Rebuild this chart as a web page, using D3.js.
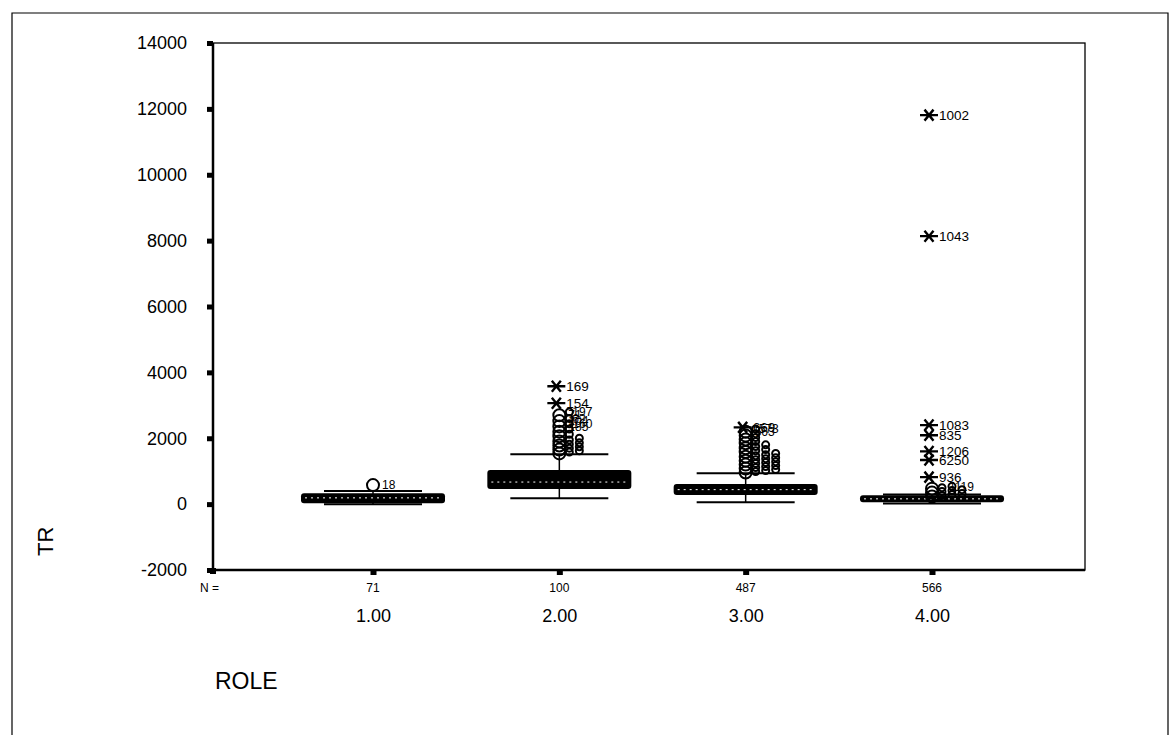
<!DOCTYPE html>
<html>
<head>
<meta charset="utf-8">
<script src="https://cdn.jsdelivr.net/npm/d3@7"></script>
<style>
  body { margin: 0; background: #fff; }
  text { font-family: "Liberation Sans", Arial, sans-serif; fill: #000; }
</style>
</head>
<body>
<div id="chart"></div>
<script>
var roles = ["1.00", "2.00", "3.00", "4.00"];
var roleValues = [1, 2, 3, 4];
var nCounts = [71, 100, 487, 566];
var lowWhisker = [0, 180, 60, 20];
var q1 = [60, 486, 304, 90];
var median = [190, 670, 440, 160];
var q3 = [300, 1002, 577, 240];
var highWhisker = [395, 1518, 941, 290];
var yTicks = [-2000, 0, 2000, 4000, 6000, 8000, 10000, 12000, 14000];

// outliers (circles) per group
var circles = [
    [577],
    [1540, 1580, 1620, 1660, 1700, 1740, 1780, 1820, 1860, 1900, 1950, 2000,
     2060, 2120, 2200, 2280, 2360, 2440, 2520, 2600, 2700, 2800],
    [960, 990, 1020, 1050, 1080, 1110, 1140, 1170, 1200, 1230, 1260, 1290,
     1320, 1350, 1380, 1410, 1440, 1470, 1500, 1540, 1580, 1620, 1660, 1700,
     1750, 1800, 1850, 1900, 1960, 2020, 2080, 2140, 2200, 2280],
    [230, 260, 290, 320, 350, 380, 410, 440, 470, 500, 540]
];
var circleLabels = [
    ["18"],
    ["185", "160", "104", "62", "71", "197"],
    ["563", "573"],
    ["1119"]
];
// extremes (stars) per group
var stars = [
    [],
    [3066, 3580],
    [2330],
    [820, 1340, 1600, 2090, 2400, 8136, 11810]
];
var starLabels = [
    [],
    ["154", "169"],
    ["669"],
    ["936", "6250", "1206", "835", "1083", "1043", "1002"]
];

var svg = d3.select("#chart")
    .append("svg")
    .attr("width", 1176)
    .attr("height", 735);

var plotLeft = 213, plotRight = 1085, plotTop = 43, plotBottom = 570;

var y = d3.scaleLinear().domain([-2000, 14000]).range([plotBottom, plotTop]);
var x = d3.scaleLinear().domain([1, 4]).range([373, 932]);

var boxHalf = 72, capHalf = 49, colStep = 10;

// outer frame
svg.append("path")
    .attr("d", "M12,735 V13 H1168 V735")
    .attr("fill", "none").attr("stroke", "#000").attr("stroke-width", 1.2);

// plot frame
svg.append("rect")
    .attr("x", plotLeft).attr("y", plotTop)
    .attr("width", plotRight - plotLeft).attr("height", plotBottom - plotTop)
    .attr("fill", "none").attr("stroke", "#000").attr("stroke-width", 1.3);
svg.append("line")
    .attr("x1", plotLeft).attr("x2", plotLeft).attr("y1", plotTop).attr("y2", plotBottom)
    .attr("stroke", "#000").attr("stroke-width", 2.5);
svg.append("line")
    .attr("x1", plotLeft).attr("x2", plotRight).attr("y1", plotBottom).attr("y2", plotBottom)
    .attr("stroke", "#000").attr("stroke-width", 2.5);

// y axis
var yAxis = svg.append("g")
    .attr("transform", "translate(" + plotLeft + ",0)")
    .call(d3.axisLeft(y).tickValues(yTicks).tickSize(0).tickPadding(26)
        .tickFormat(function(d) { return String(d); }));
yAxis.select(".domain").remove();
yAxis.selectAll("text").style("font-size", "18px");
yAxis.selectAll(".tick").append("rect")
    .attr("x", -6).attr("y", -2.5).attr("width", 6).attr("height", 5)
    .attr("fill", "#000");

// x axis
var xAxis = svg.append("g")
    .attr("transform", "translate(0," + plotBottom + ")")
    .call(d3.axisBottom(x).tickValues(roleValues).tickSize(0).tickPadding(39)
        .tickFormat(function(d, i) { return roles[i]; }));
xAxis.select(".domain").remove();
xAxis.selectAll("text").style("font-size", "18px");
xAxis.selectAll(".tick").append("rect")
    .attr("x", -3).attr("y", 0).attr("width", 6).attr("height", 5)
    .attr("fill", "#000");

svg.append("rect")
    .attr("x", plotLeft - 3).attr("y", plotBottom - 2).attr("width", 6).attr("height", 6)
    .attr("fill", "#000");

// N counts
svg.append("text")
    .attr("x", 200).attr("y", 592)
    .style("font-size", "12px")
    .text("N =");
svg.selectAll(".ncount")
    .data(nCounts)
    .enter().append("text")
    .attr("class", "ncount")
    .attr("x", function(d, i) { return x(roleValues[i]); })
    .attr("y", 592)
    .attr("text-anchor", "middle")
    .style("font-size", "12px")
    .text(function(d) { return d; });

// axis titles
svg.append("text")
    .attr("x", 215).attr("y", 689)
    .style("font-size", "23px")
    .text("ROLE");
svg.append("text")
    .attr("transform", "translate(53,556) rotate(-90)")
    .style("font-size", "22px")
    .text("TR");

// boxes
var groups = svg.selectAll(".box")
    .data(roleValues)
    .enter().append("g")
    .attr("class", "box");

groups.append("line")
    .attr("x1", function(d) { return x(d); })
    .attr("x2", function(d) { return x(d); })
    .attr("y1", function(d, i) { return y(lowWhisker[i]); })
    .attr("y2", function(d, i) { return y(highWhisker[i]); })
    .attr("stroke", "#000").attr("stroke-width", 1.5);

groups.append("line")
    .attr("x1", function(d) { return x(d) - capHalf; })
    .attr("x2", function(d) { return x(d) + capHalf; })
    .attr("y1", function(d, i) { return y(highWhisker[i]); })
    .attr("y2", function(d, i) { return y(highWhisker[i]); })
    .attr("stroke", "#000").attr("stroke-width", 2);

groups.append("line")
    .attr("x1", function(d) { return x(d) - capHalf; })
    .attr("x2", function(d) { return x(d) + capHalf; })
    .attr("y1", function(d, i) { return y(lowWhisker[i]); })
    .attr("y2", function(d, i) { return y(lowWhisker[i]); })
    .attr("stroke", "#000").attr("stroke-width", 2);

groups.append("rect")
    .attr("x", function(d) { return x(d) - boxHalf; })
    .attr("width", boxHalf * 2)
    .attr("y", function(d, i) { return y(q3[i]) - 1; })
    .attr("height", function(d, i) { return y(q1[i]) - y(q3[i]) + 2; })
    .attr("rx", 3)
    .attr("fill", "#000");

groups.append("line")
    .attr("x1", function(d) { return x(d) - boxHalf + 4; })
    .attr("x2", function(d) { return x(d) + boxHalf - 4; })
    .attr("y1", function(d, i) { return y(median[i]); })
    .attr("y2", function(d, i) { return y(median[i]); })
    .attr("stroke", "#fff").attr("stroke-width", 1)
    .attr("stroke-dasharray", "2,4");

// stack overlapping outliers into columns
function columns(vals) {
    var last = [];
    return vals.map(function(v) {
        var py = y(v), k = 0;
        while (last[k] !== undefined && Math.abs(last[k] - py) < 3.5) k++;
        last[k] = py;
        return k;
    });
}

circles.forEach(function(vals, g) {
    var cols = columns(vals);
    var cx = x(roleValues[g]);
    var pts = vals.map(function(v, i) { return {v: v, c: cols[i]}; });
    svg.selectAll(".out" + g)
        .data(pts)
        .enter().append("circle")
        .attr("class", "out" + g)
        .attr("cx", function(d) { return cx + d.c * colStep; })
        .attr("cy", function(d) { return y(d.v); })
        .attr("r", function(d) { return d.c === 0 ? 6 : 3.5; })
        .attr("fill", "none")
        .attr("stroke", "#000")
        .attr("stroke-width", 2);

    var labs = circleLabels[g];
    var labelled = pts.slice(-labs.length);
    svg.selectAll(".outlab" + g)
        .data(labelled)
        .enter().append("text")
        .attr("class", "outlab" + g)
        .attr("x", function(d) { return cx + 9 + d.c * 4; })
        .attr("y", function(d) { return y(d.v); })
        .attr("dy", "0.35em")
        .style("font-size", "12px")
        .text(function(d, i) { return labs[i]; });
});

var starPath = "M-9,0H9M-4.5,-5.5L4.5,5.5M-4.5,5.5L4.5,-5.5";

stars.forEach(function(vals, g) {
    var cx = x(roleValues[g]);
    svg.selectAll(".star" + g)
        .data(vals)
        .enter().append("path")
        .attr("class", "star" + g)
        .attr("transform", function(d) { return "translate(" + (cx - 3) + "," + y(d) + ")"; })
        .attr("d", starPath)
        .attr("fill", "none")
        .attr("stroke", "#000")
        .attr("stroke-width", 2.4);

    svg.selectAll(".starlab" + g)
        .data(vals)
        .enter().append("text")
        .attr("class", "starlab" + g)
        .attr("x", cx + 7)
        .attr("y", function(d) { return y(d); })
        .attr("dy", "0.35em")
        .style("font-size", "13.5px")
        .text(function(d, i) { return starLabels[g][i]; });
});
</script>
</body>
</html>
